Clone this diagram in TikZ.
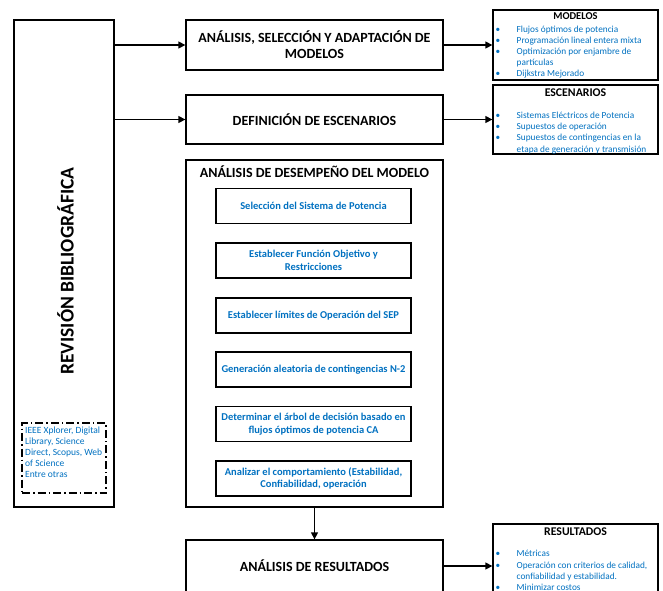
\documentclass[tikz,border=0pt]{standalone}
\usepackage{fontspec}
\setmainfont{Carlito}
\usetikzlibrary{arrows.meta}
\definecolor{txtblue}{HTML}{0070C0}
\newcommand{\mybul}{\makebox[21pt][l]{\textbullet}}
\newcommand{\myind}{\hspace*{21pt}}
\begin{document}
\begin{tikzpicture}[x=1pt,y=-1pt,
  box/.style={draw, line width=1.3pt, rectangle, inner sep=0pt},
  arr/.style={-{Triangle[length=7pt,width=7pt]}, line width=1.3pt},
  head/.style={font=\bfseries\fontsize{14}{16}\selectfont, align=center},
  inbox/.style={box, minimum width=195pt, minimum height=35pt, text=txtblue, font=\bfseries\fontsize{10.5}{12.8}\selectfont, align=center},
  listtxt/.style={anchor=base west, inner sep=0pt, text=txtblue, font=\fontsize{9.3}{11}\selectfont},
  ttl/.style={anchor=base, inner sep=0pt, font=\bfseries\fontsize{11.8}{13}\selectfont},
  dtxt/.style={anchor=base west, inner sep=0pt, text=txtblue, font=\fontsize{9.5}{11}\selectfont}
]
\useasboundingbox (0,0) rectangle (663,590);
% left box
\node[box, minimum width=100pt, minimum height=487pt] (lb) at (64,263.5) {};
\node[rotate=90, font=\bfseries\fontsize{19.5}{22}\selectfont] (lbt) at (65.5,271) {REVISIÓN BIBLIOGRÁFICA};
\node[draw, line width=1.4pt, dash pattern=on 8pt off 3pt on 1.5pt off 3pt, minimum width=84pt, minimum height=70pt, inner sep=0pt] (db) at (64,458) {};
\node[dtxt] (d1) at (25,433.3) {IEEE Xplorer, Digital};
\node[dtxt] (d2) at (25,444.3) {Library, Science};
\node[dtxt] (d3) at (25,455.6) {Direct, Scopus, Web};
\node[dtxt] (d4) at (25,466.6) {of Science};
\node[dtxt] (d5) at (25,477.6) {Entre otras};
% main column
\node[box, minimum width=257pt, minimum height=50pt, head] (b1) at (314.5,45) {ANÁLISIS, SELECCIÓN Y ADAPTACIÓN DE\\MODELOS};
\node[box, minimum width=257pt, minimum height=49pt, head] (b2) at (314.5,119.5) {DEFINICIÓN DE ESCENARIOS};
\node[box, minimum width=257pt, minimum height=347pt] (b3) at (314.5,333.5) {};
\node[head] (b3t) at (314.5,172) {ANÁLISIS DE DESEMPEÑO DEL MODELO};
\node[inbox] (i1) at (313.5,206) {Selección del Sistema de Potencia};
\node[inbox] (i2) at (313.5,260.5) {Establecer Función Objetivo y\\Restricciones};
\node[inbox] (i3) at (313.5,315.5) {Establecer límites de Operación del SEP};
\node[inbox] (i4) at (313.5,369.5) {Generación aleatoria de contingencias N-2};
\node[inbox] (i5) at (313.5,424) {Determinar el árbol de decisión basado en\\flujos óptimos de potencia CA};
\node[inbox] (i6) at (313.5,478.5) {Analizar el comportamiento (Estabilidad,\\Confiabilidad, operación};
\node[box, minimum width=257pt, minimum height=52pt, head] (b4) at (314.5,566) {ANÁLISIS DE RESULTADOS};
% right boxes
\node[box, minimum width=165pt, minimum height=70pt] (rm) at (575.5,45) {};
\node[ttl, font=\bfseries\fontsize{10.5}{12}\selectfont] (rmt) at (575.5,19.5) {MODELOS};
\node[listtxt] (m1) at (495.5,32.3) {\mybul Flujos óptimos de potencia};
\node[listtxt] (m2) at (495.5,43.7) {\mybul Programación lineal entera mixta};
\node[listtxt] (m3) at (495.5,54.7) {\mybul Optimización por enjambre de};
\node[listtxt] (m4) at (495.5,65.3) {\myind partículas};
\node[listtxt] (m5) at (495.5,76.3) {\mybul Dijkstra Mejorado};
\node[box, minimum width=165pt, minimum height=69pt] (re) at (575.5,119.5) {};
\node[ttl] (ret) at (575.5,96.5) {ESCENARIOS};
\node[listtxt] (e1) at (495.5,118) {\mybul Sistemas Eléctricos de Potencia};
\node[listtxt] (e2) at (495.5,129.7) {\mybul Supuestos de operación};
\node[listtxt] (e3) at (495.5,140.7) {\mybul Supuestos de contingencias en la};
\node[listtxt] (e4) at (495.5,152.3) {\myind etapa de generación y transmisión};
\node[box, minimum width=165pt, minimum height=80pt] (rr) at (575.5,564) {};
\node[ttl] (rrt) at (575.5,535) {RESULTADOS};
\node[listtxt] (r1) at (495.5,556.3) {\mybul Métricas};
\node[listtxt] (r2) at (495.5,568.7) {\mybul Operación con criterios de calidad,};
\node[listtxt] (r3) at (495.5,579.7) {\myind confiabilidad y estabilidad.};
\node[listtxt] (r4) at (495.5,590.3) {\mybul Minimizar costos};
% connectors
\draw[arr] (lb.east |- b1.west) -- (b1.west);
\draw[arr] (lb.east |- b2.west) -- (b2.west);
\draw[arr] (b1.east) -- (b1.east -| rm.west);
\draw[arr] (b2.east) -- (b2.east -| re.west);
\draw[arr] (b3.south) -- (b4.north);
\draw[arr] (b4.east) -- (b4.east -| rr.west);
\end{tikzpicture}
\end{document}
